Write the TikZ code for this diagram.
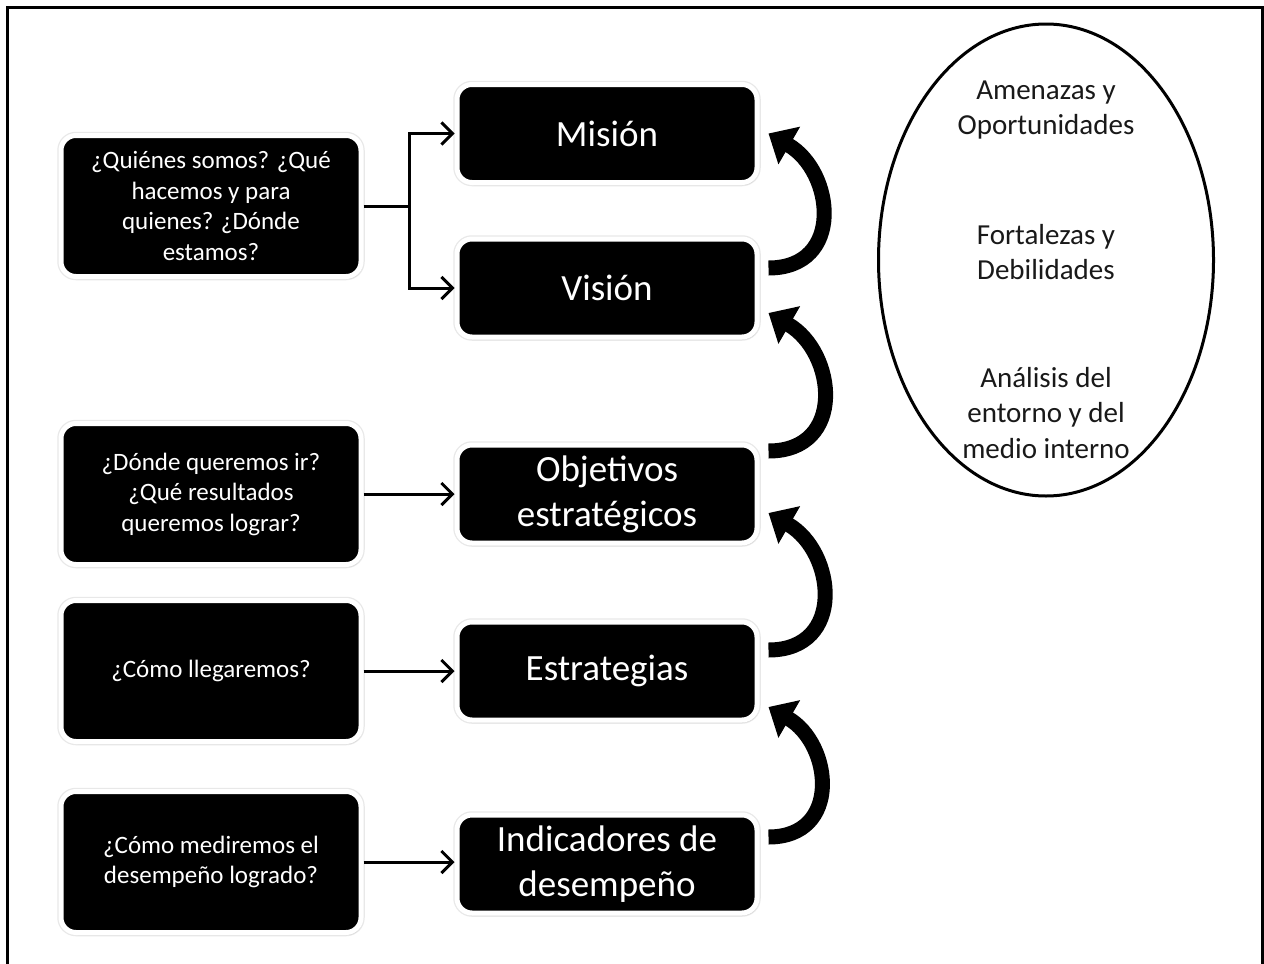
\documentclass[tikz,border=0pt]{standalone}
\usepackage{fontspec}
\setmainfont{Carlito}
\usetikzlibrary{arrows.meta,calc,shadows,shapes.geometric}

\begin{document}
\begin{tikzpicture}[x=1pt,y=1pt,
  qbox/.style={rectangle, rounded corners=15pt, fill=black, draw=white,
    line width=5pt, text=white, minimum width=300pt, minimum height=141pt,
    align=center, inner sep=4pt, font=\fontsize{25}{30.5}\selectfont,
    preaction={draw=black!9, line width=7.5pt},
    drop shadow={shadow xshift=1.5pt, shadow yshift=-2.5pt, fill=black!40, opacity=0.3}},
  kbox/.style={qbox, minimum height=98pt, font=\fontsize{37}{45}\selectfont},
  link/.style={line width=3pt, -{Straight Barb[length=11pt,width=22pt]}},
  loop/.style={line width=15pt, -{Triangle[length=24pt,width=42pt]}},
  swot/.style={align=center, text=black!90, font=\fontsize{29}{35.5}\selectfont},
]
\useasboundingbox (0,0) rectangle (1264,-964);
\fill[white] (0,0) rectangle (1264,-964);

% outer frame (open at the bottom edge of the page)
\draw[line width=3pt] (7,-975) -- (7,-7) -- (1262,-7) -- (1262,-975);

% questions column
\node[qbox] (q1) at (211,-206) {¿Quiénes somos? ¿Qué\\hacemos y para\\quienes? ¿Dónde\\estamos?};
\node[qbox] (q2) at (211,-494) {¿Dónde queremos ir?\\¿Qué resultados\\queremos lograr?};
\node[qbox] (q3) at (211,-671) {¿Cómo llegaremos?};
\node[qbox] (q4) at (211,-862) {¿Cómo mediremos el\\desempeño logrado?};

% planning elements column
\node[kbox] (mis) at (607,-133.5) {Misión};
\node[kbox] (vis) at (607,-288) {Visión};
\node[kbox] (obj) at (607,-494) {Objetivos\\estratégicos};
\node[kbox] (est) at (607,-671) {Estrategias};
\node[kbox] (ind) at (607,-864) {Indicadores de\\desempeño};

% question -> element links
\coordinate (fork) at (409,-206);
\draw[line width=3pt] (q1.east) -- (fork);
\draw[link] (fork) |- (mis.west);
\draw[link] (fork) |- (vis.west);
\draw[link] (q2.east) -- (q2.east -| obj.west);
\draw[link] (q3.east) -- (q3.east -| est.west);
\draw[link] (q4.east) -- (q4.east -| ind.west);

% upward feedback arcs
\draw[loop] ($(vis.east)+(9,20)$) to[out=0,in=-30,looseness=1.45] ($(mis.east)+(9,0)$);
\draw[loop] ($(obj.east)+(9,43)$) to[out=0,in=-30,looseness=1.45] ($(vis.east)+(9,-25)$);
\draw[loop] ($(est.east)+(9,21)$) to[out=0,in=-30,looseness=1.45] ($(obj.east)+(9,-19)$);
\draw[loop] ($(ind.east)+(9,27)$) to[out=0,in=-30,looseness=1.45] ($(est.east)+(9,-36)$);

% environment analysis ellipse
\node[draw, ellipse, line width=3pt, minimum width=335pt, minimum height=472pt] (env) at (1046,-260) {};
\node[swot] (ao) at (1046,-110) {Amenazas y\\Oportunidades};
\node[swot] (fd) at (1046,-252) {Fortalezas y\\Debilidades};
\node[swot] (an) at (1046,-413) {Análisis del\\entorno y del\\medio interno};
\end{tikzpicture}
\end{document}
